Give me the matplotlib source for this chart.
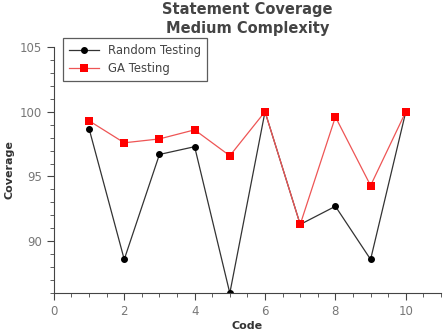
import matplotlib
matplotlib.use("Agg")
import matplotlib.pyplot as plt
from matplotlib.ticker import MultipleLocator

code = [1, 2, 3, 4, 5, 6, 7, 8, 9, 10]
random_testing = [98.7, 88.6, 96.7, 97.3, 86.0, 100.0, 91.3, 92.7, 88.6, 100.0]
ga_testing = [99.3, 97.6, 97.9, 98.6, 96.6, 100.0, 91.3, 99.6, 94.3, 100.0]

fig = plt.figure(figsize=(4.45, 3.35), dpi=100)
ax = fig.add_axes([0.121, 0.125, 0.870, 0.735])

ax.plot(code, random_testing, color="#333333", marker="o", markersize=4, linewidth=0.9,
        label="Random Testing", markerfacecolor="black", markeredgecolor="black", zorder=2)
ax.plot(code, ga_testing, color="#ee5555", marker="s", markersize=5.5, linewidth=0.9,
        label="GA Testing", markerfacecolor="#ff0000", markeredgewidth=0, zorder=3)

ax.set_xlim(0, 11)
ax.set_ylim(86, 105)
ax.xaxis.set_major_locator(MultipleLocator(2))
ax.xaxis.set_minor_locator(MultipleLocator(0.5))
ax.yaxis.set_major_locator(MultipleLocator(5))
ax.yaxis.set_minor_locator(MultipleLocator(1))
for s in ["top", "right"]:
    ax.spines[s].set_visible(False)
ax.spines["left"].set_color("#444444")
ax.spines["bottom"].set_color("#444444")
ax.tick_params(which="both", direction="out", colors="#444444", labelcolor="#777777", labelsize=8.5)
ax.tick_params(which="major", length=5)
ax.tick_params(which="minor", length=3)

ax.set_xlabel("Code", fontsize=8, fontweight="bold", color="#333333", labelpad=2)
ax.set_ylabel("Coverage", fontsize=8, fontweight="bold", color="#333333", labelpad=4)
ax.set_title("Statement Coverage\nMedium Complexity", fontsize=10.5, fontweight="bold",
             color="#444444", linespacing=1.3, pad=10)

leg = ax.legend(loc="upper left", bbox_to_anchor=(0.023, 1.037), fontsize=8.4, frameon=True,
                fancybox=False, edgecolor="#333333", labelcolor="#444444", handlelength=2.6,
                borderpad=0.5, borderaxespad=0)
leg.get_frame().set_linewidth(0.9)

fig.savefig("out.png", dpi=100)
